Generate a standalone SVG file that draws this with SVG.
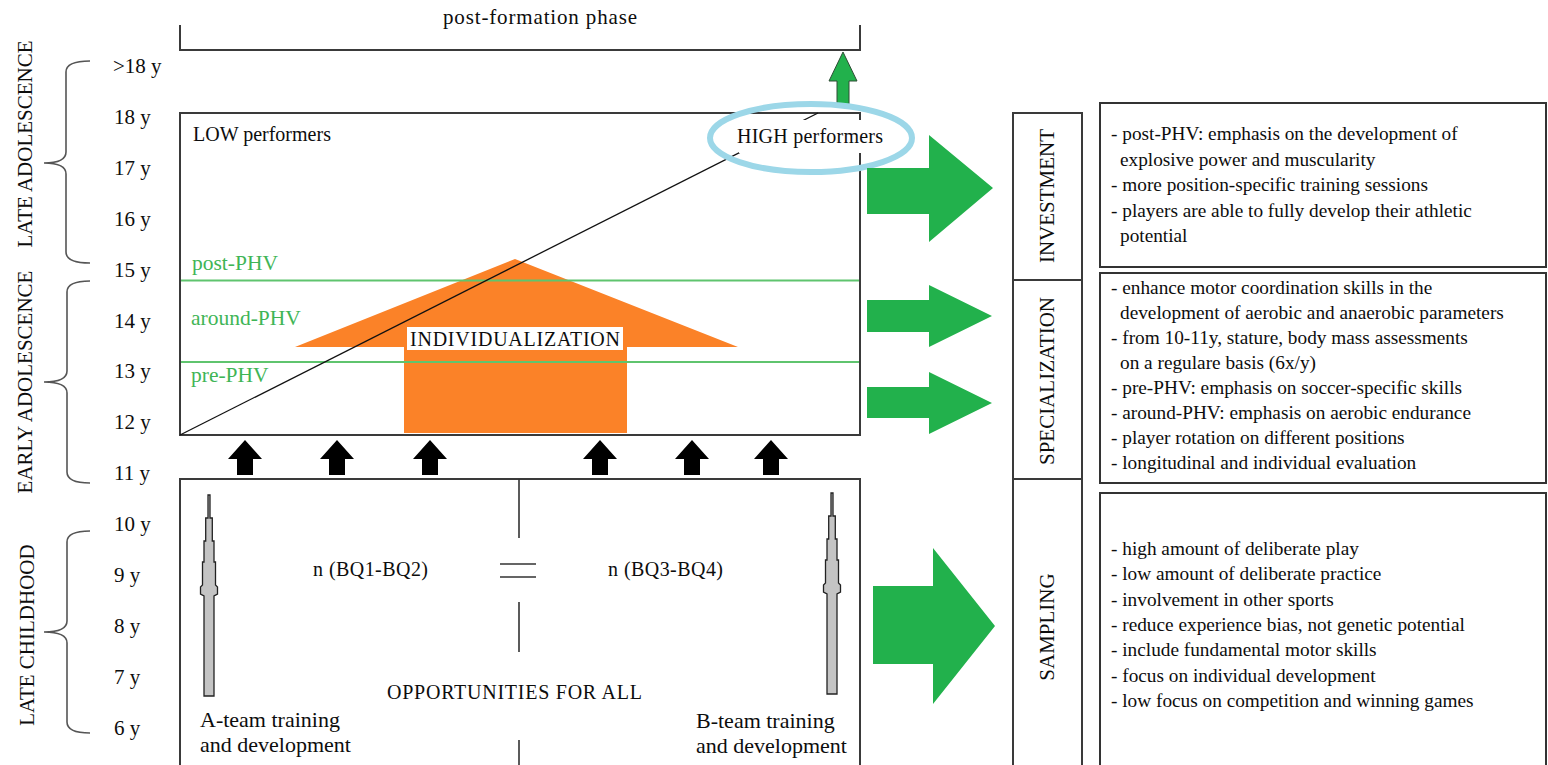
<svg xmlns="http://www.w3.org/2000/svg" width="1548" height="765" viewBox="0 0 1548 765">
  <style>
    text { font-family: "Liberation Serif", "Times New Roman", serif; fill: #0d0d0d; }
    .age { font-size: 21px; }
    .lbl { font-size: 21px; }
    .main { font-size: 20px; }
    .team { font-size: 22px; }
    .list { font-size: 19.3px; }
    .phv { font-size: 21.5px; fill: #3fb556; }
    .frame { fill: none; stroke: #3a3a3a; stroke-width: 2; }
    .rbox { fill: #fff; stroke: #333; stroke-width: 2; }
    .brace { fill: none; stroke: #555; stroke-width: 1.6; }
    .phvline { stroke: #5fc46e; stroke-width: 2; }
    .green { fill: #22b14c; }
    .black-up { fill: #000; }
    .needle { fill: #c4c4c4; stroke: #222; stroke-width: 1.3; }
  </style>
  <defs>
    <!-- small black up arrow, tip at origin -->
    <path id="up-arrow" d="M0,0 L17,19 L8,19 L8,35 L-8,35 L-8,19 L-17,19 Z"/>
    <!-- stepped needle, centred on x=0 -->
    <path id="needle" d="M-1,0 H1 V23 H3.3 V46 H5 V67 H6.5 V90 L8.5,92 V99 L5,101 V201 H-5 V101 L-8.5,99 V92 L-6.5,90 V67 H-5 V46 H-3.3 V23 H-1 Z"/>
  </defs>

  <rect width="1548" height="765" fill="#fff"/>

  <!-- age scale braces and phase names -->
  <g id="age-phases">
    <path class="brace" d="M90,61 Q66,61 66,72 L66,152 Q66,163 44,163 Q66,163 66,174 L66,252 Q66,263 90,263"/>
    <path class="brace" d="M90,281 Q67,281 67,292 L67,371 Q67,382 44,382 Q67,382 67,393 L67,472 Q67,483 90,483"/>
    <path class="brace" d="M90,531 Q67,531 67,542 L67,621 Q67,632 44,632 Q67,632 67,643 L67,722 Q67,733 90,733"/>
    <text class="lbl" transform="translate(32,144) rotate(-90)" text-anchor="middle">LATE ADOLESCENCE</text>
    <text class="lbl" transform="translate(32,382) rotate(-90)" text-anchor="middle">EARLY ADOLESCENCE</text>
    <text class="lbl" transform="translate(34,635) rotate(-90)" text-anchor="middle">LATE CHILDHOOD</text>
  </g>

  <g id="ages">
    <text class="age" x="113" y="73">&gt;18 y</text>
    <text class="age" x="114" y="124">18 y</text>
    <text class="age" x="114" y="175">17 y</text>
    <text class="age" x="114" y="226">16 y</text>
    <text class="age" x="114" y="277">15 y</text>
    <text class="age" x="114" y="328">14 y</text>
    <text class="age" x="114" y="378">13 y</text>
    <text class="age" x="114" y="429">12 y</text>
    <text class="age" x="114" y="480">11 y</text>
    <text class="age" x="114" y="531">10 y</text>
    <text class="age" x="114" y="582">9 y</text>
    <text class="age" x="114" y="633">8 y</text>
    <text class="age" x="114" y="684">7 y</text>
    <text class="age" x="114" y="735">6 y</text>
  </g>

  <!-- post-formation phase -->
  <g id="post-formation">
    <path class="frame" d="M180,25 V50 H860 V25"/>
    <text class="lbl" x="443" y="24" textLength="194">post-formation phase</text>
  </g>

  <!-- specialization / investment field -->
  <g id="performance-field">
    <rect class="frame" x="180" y="113" width="680" height="322"/>
    <path d="M515,259 L738,347 L627,347 L627,433 L404,433 L404,347 L295,347 Z" fill="#fb8228"/>
    <line class="phvline" x1="181" y1="280.5" x2="859" y2="280.5"/>
    <line class="phvline" x1="181" y1="362" x2="859" y2="362"/>
    <line x1="180" y1="435" x2="818" y2="113" stroke="#111" stroke-width="1.3"/>
    <rect x="407" y="327" width="216" height="23" fill="#fff"/>
    <text class="main" x="410" y="346" textLength="210">INDIVIDUALIZATION</text>
    <text class="phv" x="192" y="270">post-PHV</text>
    <text class="phv" x="191" y="325">around-PHV</text>
    <text class="phv" x="191" y="382">pre-PHV</text>
    <text class="main" x="193" y="141">LOW performers</text>
  </g>

  <g id="high-performers">
    <path class="green" d="M843,52 L857,81 L849,81 L849,105 L837,105 L837,81 L829,81 Z" stroke="#2e4d35" stroke-width="1"/>
    <rect x="739" y="120" width="127" height="33" fill="#fff"/>
    <text class="main" x="737" y="143" textLength="146">HIGH performers</text>
    <ellipse cx="811" cy="138" rx="101" ry="34" fill="none" stroke="#9cd7e8" stroke-width="6"/>
  </g>

  <!-- inputs from the sampling years and stage arrows -->
  <g id="connectors">
    <use href="#up-arrow" class="black-up" x="245" y="440"/>
    <use href="#up-arrow" class="black-up" x="337" y="440"/>
    <use href="#up-arrow" class="black-up" x="430" y="440"/>
    <use href="#up-arrow" class="black-up" x="600" y="440"/>
    <use href="#up-arrow" class="black-up" x="692" y="440"/>
    <use href="#up-arrow" class="black-up" x="771" y="440"/>
    <path class="green" d="M867,168 H929 V135 L993,188 L929,242 V214 H867 Z"/>
    <path class="green" d="M867,300 H929 V285 L992,316 L929,347 V332 H867 Z"/>
    <path class="green" d="M867,387 H929 V372 L992,403 L929,434 V418 H867 Z"/>
    <path class="green" d="M873,586 H933 V548 L995,626 L933,704 V664 H873 Z"/>
  </g>

  <!-- sampling field -->
  <g id="sampling-field">
    <path class="frame" d="M180,770 V479 H860 V770"/>
    <path d="M519,479 V538 M519,602 V652 M519,740 V770" stroke="#333" stroke-width="1.6" fill="none"/>
    <path d="M500,564 H536 M500,577 H536" stroke="#333" stroke-width="1.6" fill="none"/>
    <use href="#needle" class="needle" x="209" y="495"/>
    <use href="#needle" class="needle" x="832" y="493"/>
    <text class="main" x="313" y="576" font-size="21" textLength="115">n (BQ1-BQ2)</text>
    <text class="main" x="608" y="576" font-size="21" textLength="115">n (BQ3-BQ4)</text>
    <text class="main" x="387" y="699" textLength="255">OPPORTUNITIES FOR ALL</text>
    <text class="team" x="200" y="727">A-team training</text>
    <text class="team" x="200" y="752">and development</text>
    <text class="team" x="696" y="728">B-team training</text>
    <text class="team" x="696" y="753">and development</text>
  </g>

  <!-- stage column -->
  <g id="stages">
    <path class="frame" d="M1013,770 V113 H1082 V770 M1013,280 H1082 M1013,479 H1082"/>
    <text class="lbl" transform="translate(1054,196) rotate(-90)" text-anchor="middle">INVESTMENT</text>
    <text class="lbl" transform="translate(1054,381) rotate(-90)" text-anchor="middle">SPECIALIZATION</text>
    <text class="lbl" transform="translate(1054,627) rotate(-90)" text-anchor="middle">SAMPLING</text>
  </g>

  <g id="investment-notes">
    <rect class="rbox" x="1100" y="103" width="446" height="164"/>
    <text class="list" x="1111" y="140">- post-PHV: emphasis on the development of</text>
    <text class="list" x="1120" y="165.5">explosive power and muscularity</text>
    <text class="list" x="1111" y="191">- more position-specific training sessions</text>
    <text class="list" x="1111" y="216.5">- players are able to fully develop their athletic</text>
    <text class="list" x="1120" y="242">potential</text>
  </g>

  <g id="specialization-notes">
    <rect class="rbox" x="1100" y="273" width="446" height="210"/>
    <text class="list" x="1111" y="294">- enhance motor coordination skills in the</text>
    <text class="list" x="1120" y="319">development of aerobic and anaerobic parameters</text>
    <text class="list" x="1111" y="344">- from 10-11y, stature, body mass assessments</text>
    <text class="list" x="1120" y="369">on a regulare basis (6x/y)</text>
    <text class="list" x="1111" y="394">- pre-PHV: emphasis on soccer-specific skills</text>
    <text class="list" x="1111" y="419">- around-PHV: emphasis on aerobic endurance</text>
    <text class="list" x="1111" y="444">- player rotation on different positions</text>
    <text class="list" x="1111" y="469">- longitudinal and individual evaluation</text>
  </g>

  <g id="sampling-notes">
    <rect class="rbox" x="1100" y="493" width="446" height="280"/>
    <text class="list" x="1111" y="555">- high amount of deliberate play</text>
    <text class="list" x="1111" y="580">- low amount of deliberate practice</text>
    <text class="list" x="1111" y="606">- involvement in other sports</text>
    <text class="list" x="1111" y="631">- reduce experience bias, not genetic potential</text>
    <text class="list" x="1111" y="656">- include fundamental motor skills</text>
    <text class="list" x="1111" y="682">- focus on individual development</text>
    <text class="list" x="1111" y="707">- low focus on competition and winning games</text>
  </g>
</svg>
